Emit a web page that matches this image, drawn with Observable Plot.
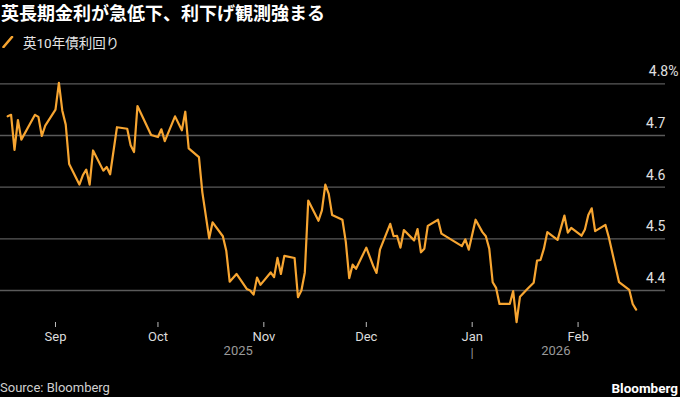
<!DOCTYPE html>
<html>
<head>
<meta charset="utf-8">
<script src="https://cdn.jsdelivr.net/npm/d3@7"></script>
<script src="https://cdn.jsdelivr.net/npm/@observablehq/plot@0.6"></script>
<style>
  html, body { margin: 0; padding: 0; background: #000; }
  body { width: 680px; height: 397px; position: relative; overflow: hidden;
         font-family: Roboto, "Noto Sans CJK JP", sans-serif; }
  #title { position: absolute; left: 1px; top: 0; font-size: 18px; line-height: 24px;
           font-weight: bold; color: #fff; font-family: "Noto Sans CJK JP", sans-serif; white-space: nowrap; }
  #legend { position: absolute; left: 2px; top: 33px; height: 18px; display: flex; align-items: center;
            font-size: 13.5px; color: #e6e6e6; white-space: nowrap; }
  #legend svg { margin-right: 9px; }
  #chart { position: absolute; left: 0; top: 56px; }
  #source { position: absolute; left: 0; top: 379px; font-size: 13px; line-height: 18px; color: #d0d0d0; }
  #brand { position: absolute; right: 2px; top: 379px; font-size: 13.5px; line-height: 18px; color: #fff; font-weight: bold; }
</style>
</head>
<body>
<div id="title"></div>
<div id="legend"></div>
<div id="chart"></div>
<div id="source"></div>
<div id="brand"></div>
<script>
const titleText = "英長期金利が急低下、利下げ観測強まる";
const seriesName = "英10年債利回り";
const sourceText = "Source: Bloomberg";
const brandText = "Bloomberg";

const dates = [
  "2025-08-18","2025-08-19","2025-08-20","2025-08-21","2025-08-22",
  "2025-08-26","2025-08-27","2025-08-28","2025-08-29",
  "2025-09-01","2025-09-02","2025-09-03","2025-09-04","2025-09-05",
  "2025-09-08","2025-09-09","2025-09-10","2025-09-11","2025-09-12",
  "2025-09-15","2025-09-16","2025-09-17","2025-09-19",
  "2025-09-22","2025-09-23","2025-09-24","2025-09-25",
  "2025-09-29","2025-10-01","2025-10-02","2025-10-03",
  "2025-10-06","2025-10-08","2025-10-09","2025-10-10",
  "2025-10-13","2025-10-14","2025-10-16","2025-10-17",
  "2025-10-20","2025-10-21","2025-10-22","2025-10-24",
  "2025-10-27","2025-10-28","2025-10-29","2025-10-30","2025-10-31",
  "2025-11-03","2025-11-04","2025-11-05","2025-11-06","2025-11-07",
  "2025-11-10","2025-11-11","2025-11-12","2025-11-13","2025-11-14",
  "2025-11-17","2025-11-18","2025-11-19","2025-11-20","2025-11-21",
  "2025-11-24","2025-11-25","2025-11-26","2025-11-27","2025-11-28",
  "2025-12-01","2025-12-03","2025-12-04","2025-12-05",
  "2025-12-08","2025-12-09","2025-12-10","2025-12-11","2025-12-12",
  "2025-12-15","2025-12-16","2025-12-17","2025-12-18","2025-12-19",
  "2025-12-22","2025-12-23","2025-12-29","2025-12-30","2025-12-31",
  "2026-01-02","2026-01-04","2026-01-05","2026-01-06","2026-01-07","2026-01-08","2026-01-09",
  "2026-01-12","2026-01-13","2026-01-14","2026-01-15","2026-01-17",
  "2026-01-19","2026-01-20","2026-01-21","2026-01-22","2026-01-23",
  "2026-01-26","2026-01-28","2026-01-29","2026-01-30",
  "2026-02-02","2026-02-03","2026-02-04","2026-02-05","2026-02-06",
  "2026-02-09","2026-02-10","2026-02-13","2026-02-16","2026-02-17","2026-02-18"
];
const yields = [
  4.737,4.740,4.672,4.730,4.692,
  4.740,4.736,4.699,4.719,
  4.750,4.802,4.748,4.721,4.645,
  4.605,4.623,4.634,4.605,4.671,
  4.632,4.639,4.625,4.716,
  4.713,4.681,4.668,4.757,
  4.701,4.697,4.712,4.689,
  4.737,4.710,4.746,4.675,
  4.658,4.590,4.501,4.532,
  4.505,4.477,4.417,4.432,
  4.403,4.400,4.392,4.425,4.411,
  4.435,4.426,4.463,4.432,4.467,
  4.463,4.387,4.400,4.435,4.574,
  4.535,4.555,4.605,4.587,4.546,
  4.537,4.494,4.424,4.450,4.442,
  4.483,4.448,4.434,4.479,
  4.529,4.505,4.506,4.483,4.517,
  4.497,4.519,4.474,4.481,4.525,
  4.537,4.510,4.486,4.499,4.479,
  4.537,4.513,4.505,4.481,4.416,4.405,4.374,
  4.374,4.399,4.339,4.388,4.402,
  4.415,4.458,4.459,4.481,4.513,
  4.498,4.545,4.512,4.521,
  4.506,4.518,4.546,4.559,4.515,
  4.527,4.503,4.416,4.401,4.374,4.363
];
const yTicks = [4.4, 4.5, 4.6, 4.7, 4.8];
const monthTicks = ["2025-09-01","2025-10-01","2025-11-01","2025-12-01","2026-01-01","2026-02-01"];
const years = ["2025", "2026"];

// Build the table
const data = dates.map((d, i) => ({date: new Date(d), value: yields[i]}));
const monthDates = monthTicks.map(d => new Date(d));

// Legend / title / footer
document.getElementById("title").textContent = titleText;
document.getElementById("legend").innerHTML =
  '<svg width="12" height="12"><line x1="1.5" y1="11" x2="10" y2="1" stroke="#f7a531" stroke-width="2.6" stroke-linecap="round"/></svg>' +
  '<span></span>';
document.querySelector("#legend span").textContent = seriesName;
document.getElementById("source").textContent = sourceText;
document.getElementById("brand").textContent = brandText;

// Layout of the x scale (pixel calibration)
const DAY = 864e5;
const anchor = Date.UTC(2025, 8, 1);
const xDomain = [new Date(anchor - 16.1 * DAY), new Date(anchor + 178.6 * DAY)];

// Year labels centered on the span of each year's data
const yearLabels = years.map(y => {
  const ds = data.filter(d => d.date.getUTCFullYear() === +y).map(d => d.date);
  const lo = +d3.min(ds), hi = +d3.max(ds);
  return {year: y, date: new Date((lo + hi) / 2)};
});
const yearBreaks = years.slice(1).map(y => new Date(Date.UTC(+y, 0, 1)));

const fmt = d3.format(".1f");
const topTick = yTicks[yTicks.length - 1];
const lowerTicks = yTicks.slice(0, -1);

const chart = Plot.plot({
  width: 680,
  height: 310,
  marginTop: 10,
  marginBottom: 44,
  marginLeft: 0,
  marginRight: 15,
  style: {background: "transparent", color: "#dcdcdc", fontFamily: 'Roboto, "Noto Sans CJK JP", sans-serif', fontSize: "13px"},
  x: {type: "utc", domain: xDomain},
  y: {domain: [4.3381, 4.8335], axis: null},
  marks: [
    Plot.ruleY(yTicks, {stroke: "#5a5a5a", strokeWidth: 1.3}),
    Plot.axisX(monthDates, {tickSize: 5, tickPadding: 4, tickFormat: d3.utcFormat("%b"), stroke: "#bdbdbd", fill: "#dcdcdc", fontSize: 13}),
    Plot.text(lowerTicks, {y: d => d, text: d => fmt(d), frameAnchor: "right", textAnchor: "end", dy: -12, fill: "#e0e0e0", fontSize: 14}),
    Plot.text([topTick], {y: d => d, text: d => fmt(d) + "%", frameAnchor: "right", textAnchor: "end", dx: 13, dy: -12, fill: "#e0e0e0", fontSize: 14}),
    Plot.line(data, {x: "date", y: "value", stroke: "#f7a531", strokeWidth: 2.2, curve: "linear"}),
    Plot.text(yearLabels, {x: "date", text: "year", frameAnchor: "bottom", dy: 32, fill: "#9a9a9a", fontSize: 13}),
    Plot.text(yearBreaks, {x: d => d, text: () => "|", frameAnchor: "bottom", dy: 34, fill: "#9a9a9a", fontSize: 13})
  ]
});
document.getElementById("chart").appendChild(chart);
</script>
</body>
</html>
